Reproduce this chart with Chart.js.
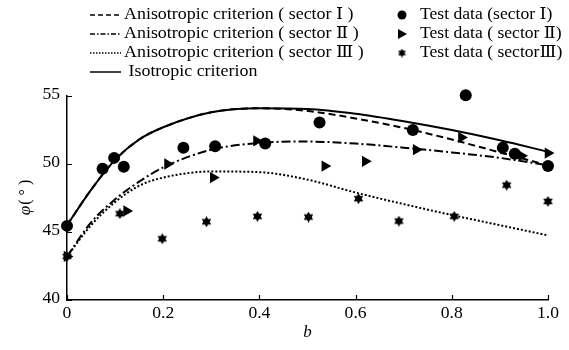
<!DOCTYPE html>
<html>
<head>
<meta charset="utf-8">
<script src="https://cdn.jsdelivr.net/npm/chart.js@4.4.0/dist/chart.umd.min.js"></script>
<style>
    html, body { margin: 0; padding: 0; background: #fff; }
    #wrap { width: 569px; height: 350px; position: relative; }
</style>
</head>
<body>
<div id="wrap"><canvas id="chart"></canvas></div>
<script>
// curves (b grid + phi values)
var bCurve = [0, 0.05, 0.1, 0.15, 0.2, 0.3, 0.4, 0.5, 0.6, 0.7, 0.8, 0.9, 1.0];
var isoCurve = [45.5, 48.1, 50.3, 51.8, 52.7, 53.8, 54.1, 54.05, 53.7, 53.15, 52.5, 51.75, 50.9];
var aniso1Curve = [45.5, 48.1, 50.3, 51.8, 52.7, 53.8, 54.1, 53.9, 53.35, 52.65, 51.8, 50.85, 49.9];
var aniso2Curve = [43.2, 45.7, 47.4, 48.7, 49.75, 51.05, 51.55, 51.65, 51.5, 51.2, 50.85, 50.45, 49.9];
var aniso3Curve = [43.2, 45.5, 47.2, 48.4, 49.0, 49.45, 49.4, 48.85, 47.9, 47.05, 46.25, 45.5, 44.75];

// test data
var test1B = [0, 0.074, 0.098, 0.118, 0.242, 0.308, 0.412, 0.525, 0.719, 0.829, 0.906, 0.931, 1.0];
var test1Y = [45.45, 49.65, 50.45, 49.8, 51.2, 51.3, 51.5, 53.05, 52.5, 55.05, 51.2, 50.75, 49.85];
var test2B = [0, 0.124, 0.209, 0.304, 0.394, 0.536, 0.62, 0.726, 0.82, 0.945, 1.0];
var test2Y = [43.2, 46.55, 50.0, 49.0, 51.7, 49.85, 50.2, 51.05, 51.95, 50.6, 50.8];
var test3B = [0, 0.11, 0.198, 0.29, 0.396, 0.502, 0.606, 0.69, 0.805, 0.914, 1.0];
var test3Y = [43.2, 46.35, 44.5, 45.75, 46.15, 46.1, 47.45, 45.8, 46.15, 48.45, 47.25];

var xTicks = [0, 0.2, 0.4, 0.6, 0.8, 1.0];
var yTicks = [40, 45, 50, 55];

var serif = "'Liberation Serif', 'DejaVu Serif', serif";

function toPoints(xs, ys) {
    return xs.map((x, i) => ({x: x, y: ys[i]}));
}

function makeStar(size) {
    var c = document.createElement('canvas');
    c.width = size;
    c.height = size;
    var ctx = c.getContext('2d');
    var r = size / 2, cx = size / 2, cy = size / 2;
    ctx.fillStyle = '#000';
    [-90, 90].forEach((a0) => {
        ctx.beginPath();
        for (var k = 0; k < 3; ++k) {
            var a = (a0 + k * 120) * Math.PI / 180;
            var px = cx + r * Math.cos(a), py = cy + r * Math.sin(a);
            if (k === 0) ctx.moveTo(px, py); else ctx.lineTo(px, py);
        }
        ctx.closePath();
        ctx.fill();
    });
    return c;
}

var starBig = makeStar(11);
var starSmall = makeStar(9);

function curveSet(ys, dash) {
    return {
        type: 'line',
        data: toPoints(bCurve, ys),
        borderColor: '#000',
        borderWidth: 2,
        borderDash: dash,
        pointRadius: 0,
        fill: false,
        cubicInterpolationMode: 'monotone',
        clip: false,
        order: 2
    };
}

function pointSet(xs, ys, style, rot, r) {
    return {
        type: 'scatter',
        data: toPoints(xs, ys),
        pointStyle: style,
        rotation: rot,
        pointRadius: r,
        backgroundColor: '#000',
        borderColor: '#000',
        borderWidth: 0,
        clip: false,
        order: 1
    };
}

var legendRows = [
    {x: 90, y: 15, kind: 'line', dash: [5, 3], text: 'Anisotropic criterion ( sector \u2160 )'},
    {x: 90, y: 34, kind: 'line', dash: [5, 2, 1.5, 2], text: 'Anisotropic criterion ( sector \u2161 )'},
    {x: 90, y: 53, kind: 'line', dash: [1.5, 1.5], text: 'Anisotropic criterion ( sector \u2162 )'},
    {x: 90, y: 72, kind: 'line', dash: [], text: ' Isotropic criterion'},
    {x: 402, y: 15, kind: 'circle', text: 'Test data (sector \u2160)'},
    {x: 402, y: 34, kind: 'tri', text: 'Test data ( sector \u2161)'},
    {x: 402, y: 53, kind: 'star', text: 'Test data ( sector\u2162)'}
];

// text in the source is a little wider than it is tall
function stretchedText(ctx, text, x, y, sx) {
    ctx.save();
    ctx.translate(x, y);
    ctx.scale(sx, 1);
    ctx.fillText(text, 0, 0);
    ctx.restore();
}

var decor = {
    id: 'decor',
    afterDraw(chart) {
        var ctx = chart.ctx;
        var xs = chart.scales.x, ys = chart.scales.y;
        var area = chart.chartArea;
        ctx.save();
        // inward tick marks
        ctx.strokeStyle = '#000';
        ctx.lineWidth = 1.2;
        ctx.beginPath();
        xTicks.forEach((v) => {
            var px = Math.round(xs.getPixelForValue(v)) + 0.5;
            ctx.moveTo(px, area.bottom);
            ctx.lineTo(px, area.bottom - 5);
        });
        yTicks.forEach((v) => {
            var py = Math.round(ys.getPixelForValue(v)) + 0.5;
            ctx.moveTo(area.left, py);
            ctx.lineTo(area.left + 5, py);
        });
        ctx.stroke();

        // tick labels
        ctx.fillStyle = '#000';
        ctx.font = '16px ' + serif;
        ctx.textBaseline = 'top';
        ctx.textAlign = 'center';
        xTicks.forEach((v) => {
            stretchedText(ctx, v === 0 ? '0' : v.toFixed(1), xs.getPixelForValue(v), area.bottom + 6, 1.1);
        });
        ctx.textBaseline = 'middle';
        ctx.textAlign = 'right';
        yTicks.forEach((v) => {
            stretchedText(ctx, String(v), area.left - 7, ys.getPixelForValue(v) - 1, 1.1);
        });

        // axis titles
        ctx.textAlign = 'center';
        ctx.font = 'italic 17px ' + serif;
        ctx.fillText('b', (area.left + area.right) / 2, 333);

        ctx.save();
        ctx.translate(26, (area.top + area.bottom) / 2);
        ctx.rotate(-Math.PI / 2);
        ctx.textAlign = 'left';
        ctx.font = 'italic 17px ' + serif;
        var w1 = ctx.measureText('\u03c6').width;
        ctx.font = '16px ' + serif;
        var w2 = ctx.measureText('( \u00b0 )').width;
        var start = -(w1 + w2) / 2;
        ctx.font = 'italic 17px ' + serif;
        ctx.fillText('\u03c6', start, 0);
        ctx.font = '16px ' + serif;
        ctx.fillText('( \u00b0 )', start + w1 + 1, 0);
        ctx.restore();

        // legend
        ctx.font = '16px ' + serif;
        ctx.textAlign = 'left';
        legendRows.forEach((row) => {
            if (row.kind === 'line') {
                ctx.beginPath();
                ctx.setLineDash(row.dash);
                ctx.lineWidth = 1.5;
                ctx.moveTo(row.x, row.y);
                ctx.lineTo(row.x + 31, row.y);
                ctx.stroke();
                ctx.setLineDash([]);
                stretchedText(ctx, row.text, row.x + 34, row.y, 1.12);
            } else {
                if (row.kind === 'circle') {
                    ctx.beginPath();
                    ctx.arc(row.x, row.y, 4.5, 0, Math.PI * 2);
                    ctx.fill();
                } else if (row.kind === 'tri') {
                    ctx.beginPath();
                    ctx.moveTo(row.x - 4, row.y - 5);
                    ctx.lineTo(row.x + 5, row.y);
                    ctx.lineTo(row.x - 4, row.y + 5);
                    ctx.closePath();
                    ctx.fill();
                } else {
                    ctx.drawImage(starSmall, row.x - 4.5, row.y - 4.5);
                }
                stretchedText(ctx, row.text, row.x + 18, row.y, 1.1);
            }
        });
        ctx.restore();
    }
};

new Chart(document.getElementById('chart'), {
    type: 'scatter',
    data: {
        datasets: [
            curveSet(aniso1Curve, [7, 4]),
            curveSet(aniso2Curve, [9, 3, 2, 3]),
            curveSet(aniso3Curve, [2, 2]),
            curveSet(isoCurve, []),
            pointSet(test1B, test1Y, 'circle', 0, 6),
            pointSet(test2B, test2Y, 'triangle', 90, 6.5),
            pointSet(test3B, test3Y, starBig, 0, 6)
        ]
    },
    options: {
        responsive: true,
        maintainAspectRatio: false,
        animation: false,
        layout: {
            padding: {top: 96, right: 21, left: 0, bottom: 0}
        },
        plugins: {
            legend: {display: false},
            tooltip: {enabled: false}
        },
        scales: {
            x: {
                type: 'linear',
                min: 0,
                max: 1,
                afterFit(scale) { scale.height = 50; },
                afterBuildTicks(scale) { scale.ticks = xTicks.map((v) => ({value: v})); },
                grid: {display: false, drawTicks: false},
                border: {display: true, color: '#000', width: 1.5},
                ticks: {display: false}
            },
            y: {
                type: 'linear',
                min: 40,
                max: 55,
                afterFit(scale) { scale.width = 67; },
                afterBuildTicks(scale) { scale.ticks = yTicks.map((v) => ({value: v})); },
                grid: {display: false, drawTicks: false},
                border: {display: true, color: '#000', width: 1.5},
                ticks: {display: false}
            }
        }
    },
    plugins: [decor]
});
</script>
</body>
</html>
